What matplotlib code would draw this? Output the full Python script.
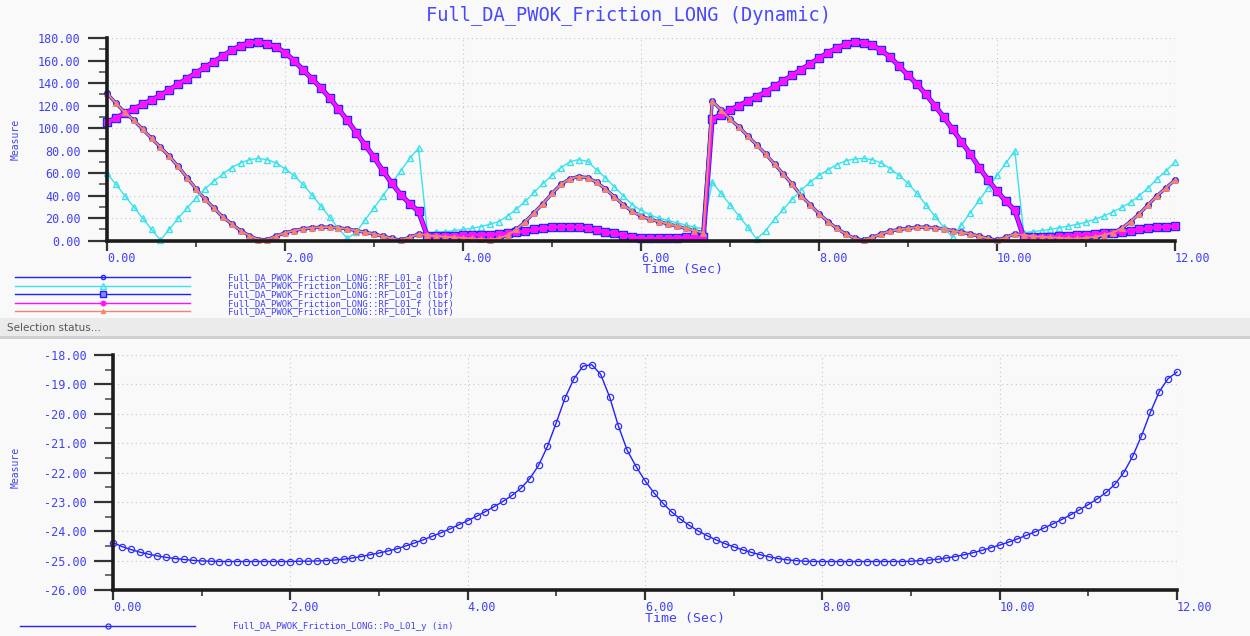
import numpy as np
import matplotlib
matplotlib.use("Agg")
import matplotlib.pyplot as plt
from matplotlib.ticker import MultipleLocator, FormatStrFormatter
from matplotlib.patches import Rectangle

# ---------------- data ----------------
time = np.round(np.arange(121) * 0.1, 1)   # sample times, 0.0 .. 12.0 s

rf_k = [131, 122, 114, 107, 99, 91, 83, 75, 66, 56,
        46, 37, 29, 21, 15, 9, 4.5, 1, 1, 4,
        7, 9, 10.5, 11.5, 12, 12, 11.5, 10.5, 9, 7.5,
        6, 4, 2, 0.5, 3, 6, 5, 4, 3.5, 3,
        2.5, 2, 1.5, 1, 2, 5, 10, 17, 25, 33,
        42, 50, 55, 57, 56, 52, 46, 39, 32, 26,
        22, 19, 17, 15, 13, 11, 9, 7, 124, 116,
        108, 101, 93, 85, 77, 68, 59, 50, 40, 32,
        24, 17, 11, 6, 2, 0.5, 3, 6, 8.5, 10,
        11, 12, 12, 11.5, 10.5, 9, 7.5, 6, 4, 2,
        0.5, 3, 6, 5, 4, 3.5, 3, 2.5, 2, 2,
        2.5, 3.5, 5, 7, 11, 17, 24, 32, 40, 47,
        54]
rf_a = list(rf_k)          # RF_L01_a lies on top of RF_L01_k in the picture

rf_c = [60, 50, 40, 30, 20, 10, 0.5, 10, 20, 29,
        38, 46, 53, 59, 65, 69, 72, 73, 72, 69,
        64, 58, 50, 41, 31, 21, 11, 2, 7.5, 18.5,
        29, 40, 51, 62, 73, 82, 7, 7.5, 8, 9,
        10, 11, 12.5, 14.5, 17, 22, 28, 35, 43, 51,
        58, 65, 70, 72, 70.5, 63, 56, 48, 40, 32,
        27, 23, 20, 18, 16, 14, 12, 10.5, 52, 42,
        32, 22, 12, 1.5, 9, 19, 28, 37, 45, 52,
        58, 63, 67.5, 71, 72.5, 73, 72, 69, 64, 58,
        51, 42, 32, 22, 12, 3, 14, 25, 36, 47,
        58, 69, 80, 7, 8, 9, 10, 11.5, 13, 14.5,
        16.5, 19, 22, 25.5, 29.5, 34, 40, 47, 55, 62,
        70]

rf_f = [105, 109, 113, 117, 121, 125, 129, 134, 139, 144,
        149, 154, 159, 164, 169, 173, 176, 176.5, 175, 172,
        167, 160, 152, 144, 136, 127, 117, 107, 96, 85,
        74, 62, 51, 41, 33, 26, 4, 4, 4.5, 4.5,
        5, 5, 5.5, 5.5, 6, 6.5, 7.5, 8.5, 10, 11,
        12, 12.5, 12.5, 12, 11, 9.5, 8, 6.5, 5, 3.5,
        2, 2, 2, 2.5, 2.5, 3, 3, 3, 108, 112,
        116, 120, 124, 128, 132, 137, 142, 147, 152, 157,
        162, 167, 171, 174.5, 176.5, 176, 173.5, 169, 163, 155,
        147, 139, 130, 120, 110, 99, 88, 77, 65, 54,
        44, 35, 27, 3, 3, 3.5, 3.5, 4, 4.5, 5,
        5.5, 6, 6.5, 7, 8, 9, 10, 11, 12, 12.5,
        13]
rf_d = list(rf_f)          # RF_L01_d lies under RF_L01_f in the picture

po_y = [-24.39, -24.52, -24.62, -24.71, -24.78, -24.84, -24.89, -24.93, -24.96, -24.99,
        -25.01, -25.02, -25.03, -25.03, -25.03, -25.03, -25.03, -25.03, -25.03, -25.03,
        -25.03, -25.02, -25.02, -25.01, -25.00, -24.98, -24.95, -24.91, -24.86, -24.80,
        -24.74, -24.67, -24.60, -24.50, -24.40, -24.29, -24.17, -24.05, -23.92, -23.78,
        -23.64, -23.49, -23.33, -23.16, -22.98, -22.78, -22.54, -22.21, -21.76, -21.11,
        -20.30, -19.45, -18.80, -18.38, -18.33, -18.66, -19.42, -20.42, -21.25, -21.80,
        -22.28, -22.69, -23.04, -23.34, -23.59, -23.80, -23.99, -24.15, -24.29, -24.42,
        -24.53, -24.63, -24.72, -24.80, -24.87, -24.93, -24.97, -25.00, -25.02, -25.03,
        -25.03, -25.03, -25.03, -25.03, -25.03, -25.03, -25.03, -25.03, -25.03, -25.03,
        -25.02, -25.00, -24.98, -24.95, -24.91, -24.86, -24.80, -24.73, -24.65, -24.56,
        -24.47, -24.37, -24.26, -24.14, -24.02, -23.89, -23.75, -23.60, -23.44, -23.27,
        -23.09, -22.90, -22.68, -22.40, -22.00, -21.45, -20.75, -19.95, -19.25, -18.80,
        -18.58]

title_text = "Full_DA_PWOK_Friction_LONG (Dynamic)"
prefix = "Full_DA_PWOK_Friction_LONG::"
top_labels = [prefix + "RF_L01_a (lbf)", prefix + "RF_L01_c (lbf)",
              prefix + "RF_L01_d (lbf)", prefix + "RF_L01_f (lbf)",
              prefix + "RF_L01_k (lbf)"]
bottom_label = prefix + "Po_L01_y (in)"
x_ticks = [0, 2, 4, 6, 8, 10, 12]
top_yticks = [0, 20, 40, 60, 80, 100, 120, 140, 160, 180]
bottom_yticks = [-26, -25, -24, -23, -22, -21, -20, -19, -18]

# ---------------- figure ----------------
W, H = 1250, 636
MONO = "DejaVu Sans Mono"
plt.rcParams["font.family"] = [MONO]
TXT = "#4242f5"
BG = "#f9f9fa"

fig = plt.figure(figsize=(12.5, 6.36), dpi=100)
fig.patch.set_facecolor(BG)


def fx(px):
    return px / W


def fy(py):
    return 1 - py / H


ax1 = fig.add_axes([fx(107), fy(240.7), (1175 - 107) / W, (240.7 - 38) / H])
ax2 = fig.add_axes([fx(113), fy(590), (1177 - 113) / W, (590 - 355) / H])


def style(ax, yticks, yminor, ylim):
    ax.set_facecolor("none")
    for s in ["top", "right"]:
        ax.spines[s].set_visible(False)
    for s in ["left", "bottom"]:
        ax.spines[s].set_linewidth(2.6)
        ax.spines[s].set_color("#1c1c1c")
    ax.set_xlim(0, 12)
    ax.set_ylim(*ylim)
    ax.set_xticks(x_ticks)
    ax.set_yticks(yticks)
    ax.xaxis.set_minor_locator(MultipleLocator(1))
    ax.yaxis.set_minor_locator(MultipleLocator(yminor))
    ax.xaxis.set_major_formatter(FormatStrFormatter("%.2f"))
    ax.yaxis.set_major_formatter(FormatStrFormatter("%.2f"))
    ax.tick_params(axis="y", which="major", length=14, width=1.6, color="#333333",
                   pad=5, labelsize=8.5, labelcolor=TXT)
    ax.tick_params(axis="y", which="minor", length=6, width=1.2, color="#555555")
    ax.tick_params(axis="x", which="major", length=7, width=1.6, color="#333333",
                   pad=1.0, labelsize=8.5, labelcolor=TXT)
    ax.tick_params(axis="x", which="minor", length=4, width=1.2, color="#333333")
    plt.setp(ax.get_xticklabels(), ha="left")
    ax.grid(True, which="major", linestyle=(0, (1, 3)), color="#c6c6c6", linewidth=0.8)
    ax.set_axisbelow(True)


style(ax1, top_yticks, 10, (0, 180))
style(ax2, bottom_yticks, 0.5, (-26, -18))

# ---------------- top panel series ----------------
BLUE = "#2020ff"
CYAN = "#3ae2ec"
MAG = "#ff10ff"
SAL = "#f7826f"

ax1.plot(time, rf_a, color=BLUE, lw=2.4, marker="o", ms=4, mfc="none",
         mec=BLUE, mew=1.0, label=top_labels[0], clip_on=False)
ax1.plot(time, rf_c, color=CYAN, lw=1.0, marker="^", ms=5, mfc="none",
         mec=CYAN, mew=1.0, label=top_labels[1], clip_on=False)
ax1.plot(time, rf_d, color=BLUE, lw=3.6, marker="s", ms=5.5, mfc="#8a8aff",
         mec=BLUE, mew=1.0, label=top_labels[2], clip_on=False)
ax1.plot(time, rf_f, color=MAG, lw=2.4, marker="o", ms=5, mfc=MAG,
         mec=MAG, mew=0.5, label=top_labels[3], clip_on=False)
ax1.plot(time, rf_k, color=SAL, lw=1.4, marker="^", ms=4.5, mfc=SAL,
         mec=SAL, mew=0.5, label=top_labels[4], clip_on=False)

ax1.set_xlabel("Time (Sec)", fontsize=9.5, color=TXT)
ax1.xaxis.set_label_coords(0.539, -0.112)
ax1.set_ylabel("Measure", fontsize=7, color=TXT)
ax1.yaxis.set_label_coords(-0.081, 0.5)

leg1 = ax1.legend(loc="upper left", bbox_to_anchor=(fx(15), fy(273)),
                  bbox_transform=fig.transFigure, frameon=False, numpoints=1,
                  markerscale=0.75, handlelength=19.4, handletextpad=4.2,
                  labelspacing=-0.05, handleheight=0.5,
                  borderpad=0, borderaxespad=0, prop={"family": MONO, "size": 6.5})
for t in leg1.get_texts():
    t.set_color(TXT)
for ln in leg1.get_lines():
    ln.set_linewidth(1.0)

# ---------------- bottom panel series ----------------
ax2.plot(time, po_y, color=BLUE, lw=1.0, marker="o", ms=4.5, mfc="none",
         mec="#3030ff", mew=0.9, label=bottom_label, clip_on=False)

ax2.set_xlabel("Time (Sec)", fontsize=9.5, color=TXT)
ax2.xaxis.set_label_coords(0.5376, -0.095)
ax2.set_ylabel("Measure", fontsize=7, color=TXT)
ax2.yaxis.set_label_coords(-0.087, 0.52)

leg2 = ax2.legend(loc="upper left", bbox_to_anchor=(fx(20), fy(622)),
                  bbox_transform=fig.transFigure, frameon=False, numpoints=1,
                  markerscale=0.8, handlelength=19.4, handletextpad=4.2,
                  borderpad=0, borderaxespad=0, prop={"family": MONO, "size": 6.5})
for t in leg2.get_texts():
    t.set_color(TXT)

# ---------------- title & status bar ----------------
fig.text(fx(629), fy(15), title_text, ha="center", va="center",
         fontsize=13.5, color="#4848ff", family=MONO)

fig.add_artist(Rectangle((0, fy(336)), 1, (336 - 318) / H, transform=fig.transFigure,
                         facecolor="#ebebeb", edgecolor="none", zorder=0))
fig.add_artist(Rectangle((0, fy(339)), 1, 3 / H, transform=fig.transFigure,
                         facecolor="#cfcfcf", edgecolor="none", zorder=0))
fig.text(fx(7), fy(328), "Selection status...", ha="left", va="center",
         fontsize=7.5, color="#555555", family="DejaVu Sans")

fig.savefig("out.png", dpi=100, facecolor=fig.get_facecolor())
